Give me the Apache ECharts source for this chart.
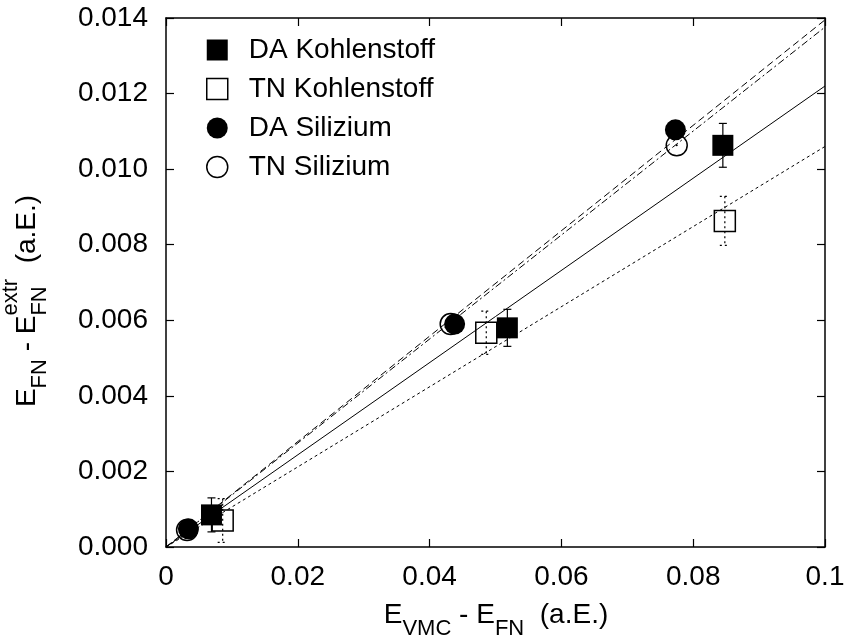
<!DOCTYPE html>
<html>
<head>
<meta charset="utf-8">
<script src="https://cdn.jsdelivr.net/npm/echarts@6/dist/echarts.min.js"></script>
<style>
html, body { margin: 0; padding: 0; background: #fff; }
#chart { width: 848px; height: 641px; }
</style>
</head>
<body>
<div id="chart"></div>
<script>
// data: [E_VMC - E_FN, E_FN - E_FN^extr]
const daKohlenstoff = [[0.0069, 0.00085], [0.0518, 0.0058], [0.0845, 0.01063]];
const daKohlenstoffErr = [0.00045, 0.00049, 0.00058];
const tnKohlenstoff = [[0.0086, 0.0007], [0.0486, 0.00567], [0.0848, 0.00863]];
const tnKohlenstoffErr = [0.00058, 0.00057, 0.00065];
const daSilizium = [[0.0034, 0.00048], [0.0438, 0.0059], [0.0773, 0.01104]];
const tnSilizium = [[0.0032, 0.00045], [0.0432, 0.0059], [0.0775, 0.01063]];

// fit lines, end points
const fitDaKohlenstoff = [[0, 0], [0.1, 0.0122]];
const fitTnKohlenstoff = [[0, 0], [0.1, 0.0106]];
const fitDaSilizium = [[0, 0], [0.1, 0.01395]];
const fitTnSilizium = [[0, 0], [0.1, 0.01376]];

const xTickValues = [0, 0.02, 0.04, 0.06, 0.08, 0.1];
const xTickLabels = ['0', '0.02', '0.04', '0.06', '0.08', '0.1'];
const yTickValues = [0, 0.002, 0.004, 0.006, 0.008, 0.010, 0.012, 0.014];
const yTickLabels = ['0.000', '0.002', '0.004', '0.006', '0.008', '0.010', '0.012', '0.014'];

const FONT = '"Liberation Sans", Arial, sans-serif';
const MAIN = 28;
const SUB = 22;

function tickFmt(values, labels) {
	return function (v) {
		const i = values.findIndex((t) => Math.abs(t - v) < 1e-9);
		return i >= 0 ? labels[i] : '';
	};
}

const ctx = document.createElement('canvas').getContext('2d');
function textW(t, s) {
	ctx.font = s + 'px ' + FONT;
	return ctx.measureText(t).width;
}

// lays out text with sub/superscripts, baseline at y = 0, centred on x = 0
function buildLabel(parts) {
	let x = 0;
	const kids = [];
	parts.forEach((p) => {
		const items = p.stack || [p];
		let w = 0;
		items.forEach((it) => {
			const s = it.dy ? SUB : MAIN;
			kids.push({
				type: 'text',
				x: x,
				y: (it.dy || 0) - 0.35 * s,
				style: {
					text: it.t,
					font: s + 'px ' + FONT,
					fill: '#000',
					align: 'left',
					verticalAlign: 'middle',
					textAlign: 'left',
					textVerticalAlign: 'middle',
				},
			});
			w = Math.max(w, textW(it.t, s));
		});
		x += w;
	});
	kids.forEach((k) => (k.x -= x / 2));
	return kids;
}

const xName = buildLabel([
	{ t: 'E' }, { t: 'VMC', dy: 12 }, { t: ' - E' }, { t: 'FN', dy: 12 }, { t: '  (a.E.)' },
]);
const yName = buildLabel([
	{ t: 'E' }, { t: 'FN', dy: 11 }, { t: ' - E' },
	{ stack: [{ t: 'extr', dy: -18 }, { t: 'FN', dy: 11 }] },
	{ t: '  (a.E.)' },
]);

function errorBars(dashed, cap) {
	return function (params, api) {
		const x = api.value(0), y = api.value(1), e = api.value(2);
		const top = api.coord([x, y + e]);
		const bot = api.coord([x, y - e]);
		const style = { stroke: '#000', lineWidth: 1.2, lineDash: dashed ? [2, 3] : null };
		return {
			type: 'group',
			children: [
				{ type: 'line', shape: { x1: top[0], y1: top[1], x2: bot[0], y2: bot[1] }, style: style },
				{ type: 'line', shape: { x1: top[0] - cap, y1: top[1], x2: top[0] + cap, y2: top[1] }, style: style },
				{ type: 'line', shape: { x1: bot[0] - cap, y1: bot[1], x2: bot[0] + cap, y2: bot[1] }, style: style },
			],
		};
	};
}

function fitLine(name, data, type) {
	return {
		name: name,
		type: 'line',
		data: data,
		showSymbol: false,
		silent: true,
		z: 1,
		lineStyle: { color: '#000', width: 1, type: type },
	};
}

const openStyle = { color: 'rgba(0,0,0,0)', borderColor: '#000', borderWidth: 1.5, opacity: 1 };
const filledStyle = { color: '#000', opacity: 1 };

const axisCommon = {
	type: 'value',
	splitLine: { show: false },
	axisLine: { show: true, onZero: false, lineStyle: { color: '#000', width: 1.5 } },
	axisTick: { show: true, inside: true, length: 8, lineStyle: { color: '#000', width: 1.2 } },
};

function centreDots(data) {
	return {
		type: 'scatter',
		symbol: 'circle',
		symbolSize: 2,
		silent: true,
		z: 5,
		itemStyle: { color: '#000', opacity: 1 },
		data: data,
	};
}

const chart = echarts.init(document.getElementById('chart'));
chart.setOption({
	animation: false,
	backgroundColor: '#fff',
	grid: { left: 166, right: 23, top: 18, bottom: 94 },
	xAxis: [
		Object.assign({}, axisCommon, {
			min: 0, max: 0.1, interval: 0.02, position: 'bottom',
			axisLabel: { fontSize: MAIN, fontFamily: FONT, color: '#000', margin: 16, formatter: tickFmt(xTickValues, xTickLabels) },
		}),
		Object.assign({}, axisCommon, {
			min: 0, max: 0.1, interval: 0.02, position: 'top',
			axisLabel: { show: false },
		}),
	],
	yAxis: [
		Object.assign({}, axisCommon, {
			min: 0, max: 0.014, interval: 0.002, position: 'left',
			axisLabel: { fontSize: MAIN, fontFamily: FONT, color: '#000', margin: 18, formatter: tickFmt(yTickValues, yTickLabels) },
		}),
		Object.assign({}, axisCommon, {
			min: 0, max: 0.014, interval: 0.002, position: 'right',
			axisLabel: { show: false },
		}),
	],
	legend: {
		orient: 'vertical',
		left: 206,
		top: 36,
		itemWidth: 21,
		itemHeight: 21,
		itemGap: 11,
		padding: 0,
		selectedMode: false,
		textStyle: { fontSize: MAIN, fontFamily: FONT, color: '#000', padding: [0, 0, 0, 16] },
		data: [
			{ name: 'DA Kohlenstoff', icon: 'rect', itemStyle: filledStyle },
			{ name: 'TN Kohlenstoff', icon: 'rect', itemStyle: openStyle },
			{ name: 'DA Silizium', icon: 'circle', itemStyle: filledStyle },
			{ name: 'TN Silizium', icon: 'circle', itemStyle: openStyle },
		],
	},
	graphic: [
		{ type: 'group', x: 496, y: 625, children: xName },
		{ type: 'group', x: 37, y: 301, rotation: Math.PI / 2, children: yName },
	],
	series: [
		fitLine('fit DA Kohlenstoff', fitDaKohlenstoff, 'solid'),
		fitLine('fit TN Kohlenstoff', fitTnKohlenstoff, [3, 3]),
		fitLine('fit DA Silizium', fitDaSilizium, [7, 4]),
		fitLine('fit TN Silizium', fitTnSilizium, [7, 3, 2, 3]),
		{
			type: 'custom',
			silent: true,
			z: 2,
			renderItem: errorBars(false, 4),
			data: daKohlenstoff.map((p, i) => [p[0], p[1], daKohlenstoffErr[i]]),
		},
		{
			type: 'custom',
			silent: true,
			z: 2,
			renderItem: errorBars(true, 5),
			data: tnKohlenstoff.map((p, i) => [p[0], p[1], tnKohlenstoffErr[i]]),
		},
		{ name: 'TN Silizium', type: 'scatter', symbol: 'circle', symbolSize: 21, z: 3, itemStyle: openStyle, data: tnSilizium },
		centreDots(tnSilizium),
		{ name: 'DA Silizium', type: 'scatter', symbol: 'circle', symbolSize: 21, z: 6, itemStyle: filledStyle, data: daSilizium },
		{ name: 'TN Kohlenstoff', type: 'scatter', symbol: 'rect', symbolSize: 21, z: 3, itemStyle: openStyle, data: tnKohlenstoff },
		{ name: 'DA Kohlenstoff', type: 'scatter', symbol: 'rect', symbolSize: 21, z: 6, itemStyle: filledStyle, data: daKohlenstoff },
	],
});
</script>
</body>
</html>
